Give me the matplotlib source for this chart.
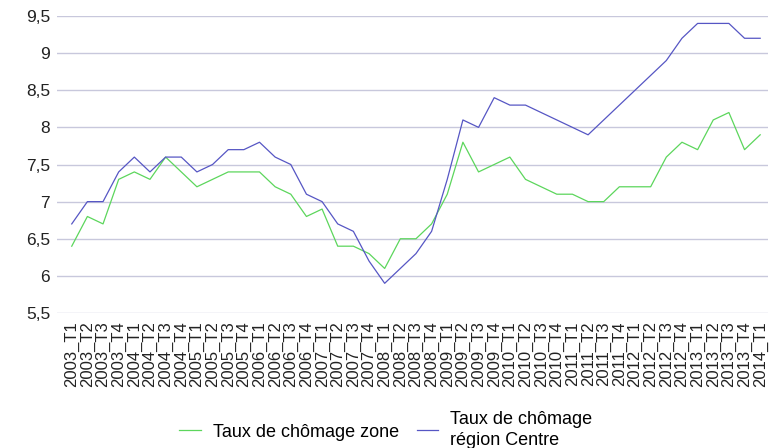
import matplotlib
matplotlib.use('Agg')
import matplotlib.pyplot as plt

plt.rcParams['font.family'] = ['Liberation Sans', 'DejaVu Sans']

# trimestres 2003_T1 .. 2014_T1
trimestres = []
for annee in range(2003, 2015):
    for t in range(1, 5):
        trimestres.append(f'{annee}_T{t}')
trimestres = trimestres[:45]

taux_zone = [6.4, 6.8, 6.7, 7.3, 7.4, 7.3, 7.6, 7.4, 7.2, 7.3,
             7.4, 7.4, 7.4, 7.2, 7.1, 6.8, 6.9, 6.4, 6.4, 6.3,
             6.1, 6.5, 6.5, 6.7, 7.1, 7.8, 7.4, 7.5, 7.6, 7.3,
             7.2, 7.1, 7.1, 7.0, 7.0, 7.2, 7.2, 7.2, 7.6, 7.8,
             7.7, 8.1, 8.2, 7.7, 7.9]

taux_region = [6.7, 7.0, 7.0, 7.4, 7.6, 7.4, 7.6, 7.6, 7.4, 7.5,
               7.7, 7.7, 7.8, 7.6, 7.5, 7.1, 7.0, 6.7, 6.6, 6.2,
               5.9, 6.1, 6.3, 6.6, 7.3, 8.1, 8.0, 8.4, 8.3, 8.3,
               8.2, 8.1, 8.0, 7.9, 8.1, 8.3, 8.5, 8.7, 8.9, 9.2,
               9.4, 9.4, 9.4, 9.2, 9.2]

yticks = [5.5, 6, 6.5, 7, 7.5, 8, 8.5, 9, 9.5]
ytick_labels = ['5,5', '6', '6,5', '7', '7,5', '8', '8,5', '9', '9,5']

fig = plt.figure(figsize=(7.76, 4.48), dpi=100)
ax = fig.add_axes([0.0735, 0.3013, 0.9162, 0.663])

x = list(range(len(trimestres)))
ax.plot(x, taux_zone, color='#5cd65c', lw=0.9, label='Taux de chômage zone')
ax.plot(x, taux_region, color='#5656c4', lw=0.9, label='Taux de chômage\nrégion Centre')

ax.set_ylim(5.5, 9.5)
ax.set_xlim(-0.94, 44.5)
ax.set_yticks(yticks)
ax.set_yticklabels(ytick_labels, fontsize=12.5, color='#222222')
ax.set_xticks(x)
ax.set_xticklabels(trimestres, rotation=90, fontsize=12, color='#222222')
ax.tick_params(axis='both', length=0)
ax.tick_params(axis='y', pad=5)
ax.tick_params(axis='x', pad=6)

ax.grid(axis='y', color='#c8c8dc', lw=1)
ax.set_axisbelow(True)
for s in ax.spines.values():
    s.set_visible(False)

leg = fig.legend(loc='center', bbox_to_anchor=(0.497, 0.04), ncol=2, frameon=False,
                 fontsize=13, handlelength=1.2, handletextpad=0.65, columnspacing=1.0)
for txt in leg.get_texts():
    txt.set_linespacing(1.3)

fig.savefig('out.png', dpi=100)
